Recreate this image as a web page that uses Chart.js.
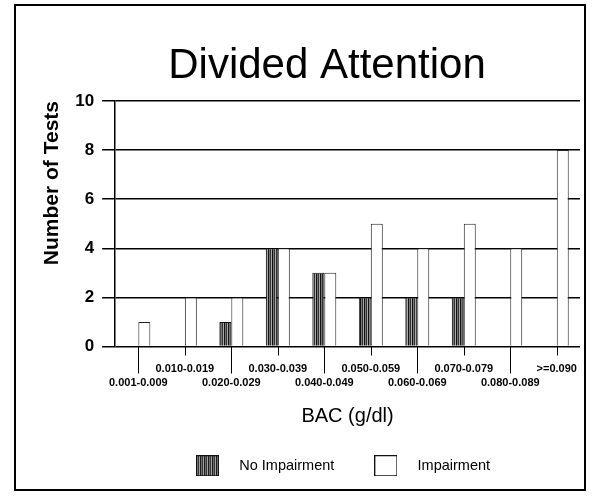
<!DOCTYPE html>
<html>
<head>
<meta charset="utf-8">
<script src="https://cdn.jsdelivr.net/npm/chart.js@4/dist/chart.umd.min.js"></script>
<style>
  html, body { margin: 0; padding: 0; background: #fff; }
  #wrap { position: relative; width: 593px; height: 497px; }
</style>
</head>
<body>
<div id="wrap"><canvas id="chart" width="593" height="497"></canvas></div>
<script>
// BAC ranges (g/dl) and counts of divided-attention tests per range
const categories = ['0.001-0.009', '0.010-0.019', '0.020-0.029', '0.030-0.039', '0.040-0.049',
                    '0.050-0.059', '0.060-0.069', '0.070-0.079', '0.080-0.089', '>=0.090'];
const noImpairment = [0, 0, 1, 4, 3, 2, 2, 2, 0, 0];
const impairment   = [1, 2, 2, 4, 3, 5, 4, 5, 4, 8];
const seriesNames  = ['No Impairment', 'Impairment'];
const yMin = 0, yMax = 10, yStep = 2;

const FONT = '"Liberation Sans", Arial, Helvetica, sans-serif';

// vertical-stripe hatch used for the "No Impairment" bars
function makeHatchTile() {
  const c = document.createElement('canvas');
  c.width = 4; c.height = 4;
  const g = c.getContext('2d');
  const cols = ['#111', '#777', '#333', '#aaa'];
  cols.forEach((col, i) => { g.fillStyle = col; g.fillRect(i, 0, 1, 4); });
  return c;
}
const hatchTile = makeHatchTile();
const hatch = document.createElement('canvas').getContext('2d').createPattern(hatchTile, 'repeat');

// legend swatches drawn as small canvases
function makeSwatch(fill) {
  const c = document.createElement('canvas');
  c.width = 23; c.height = 21;
  const g = c.getContext('2d');
  g.fillStyle = fill;
  g.fillRect(0, 0, 23, 21);
  g.strokeStyle = '#111';
  g.lineWidth = 1;
  g.strokeRect(0.5, 0.5, 22, 20);
  return c;
}
const swatches = [makeSwatch(hatch), makeSwatch('#fff')];

const framePlugin = {
  id: 'frame',
  afterLayout(chart) {
    // nudge the legend row a little left of the plot centre
    const lg = chart.legend;
    if (lg) { lg.left -= 11; lg.right -= 11; }
  },
  beforeDraw(chart) {
    const ctx = chart.ctx;
    ctx.save();
    ctx.fillStyle = '#fff';
    ctx.fillRect(0, 0, chart.width, chart.height);
    ctx.strokeStyle = '#000';
    ctx.lineWidth = 2;
    ctx.strokeRect(15, 5, 570, 485);
    ctx.restore();
  },
  afterDraw(chart) {
    const ctx = chart.ctx;
    ctx.save();
    // heading
    ctx.fillStyle = '#000';
    ctx.font = '42px ' + FONT;
    ctx.textAlign = 'center';
    ctx.textBaseline = 'middle';
    ctx.fillText('Divided Attention', 327, 66);
    // category tick lines, long for the lower label row, short for the upper
    const xs = chart.scales.x;
    const bottom = chart.chartArea.bottom;
    ctx.strokeStyle = '#000';
    ctx.lineWidth = 1;
    xs.ticks.forEach((t, i) => {
      const x = Math.round(xs.getPixelForTick(i)) + 0.5;
      const len = i % 2 === 0 ? 27 : 9;
      ctx.beginPath();
      ctx.moveTo(x, bottom);
      ctx.lineTo(x, bottom + len);
      ctx.stroke();
    });
    ctx.restore();
  }
};

new Chart(document.getElementById('chart'), {
  type: 'bar',
  data: {
    labels: categories,
    datasets: [
      { label: seriesNames[0], data: noImpairment, backgroundColor: hatch,
        borderColor: '#111', borderWidth: 1 },
      { label: seriesNames[1], data: impairment, backgroundColor: '#fff',
        borderColor: '#222', borderWidth: 1 }
    ]
  },
  options: {
    responsive: false,
    animation: false,
    layout: { padding: { top: 101, left: 35, right: 13, bottom: 14 } },
    datasets: { bar: { barPercentage: 1.0, categoryPercentage: 0.515 } },
    scales: {
      x: {
        grid: { display: false, drawTicks: false },
        border: { display: false },
        ticks: {
          autoSkip: false, maxRotation: 0, minRotation: 0,
          padding: 15, color: '#000',
          font: { family: FONT, size: 11, weight: 'bold', lineHeight: '14px' },
          callback: (v, i) => i % 2 === 0 ? ['', categories[i]] : categories[i]
        },
        title: {
          display: true, text: 'BAC (g/dl)', color: '#000',
          font: { family: FONT, size: 20 },
          padding: { top: 0, bottom: 3 }
        }
      },
      y: {
        min: yMin, max: yMax,
        grid: { color: '#000', lineWidth: 1.5, tickLength: 13 },
        border: { color: '#000', width: 1.5 },
        ticks: {
          stepSize: yStep, padding: 8, color: '#000',
          font: { family: FONT, size: 17, weight: 'bold' }
        },
        title: {
          display: true, text: 'Number of Tests', color: '#000', align: 'end',
          font: { family: FONT, size: 21, weight: 'bold' },
          padding: { top: 5, bottom: 2 }
        }
      }
    },
    plugins: {
      title: { display: false },
      tooltip: { enabled: false },
      legend: {
        position: 'bottom',
        fullSize: false,
        labels: {
          usePointStyle: true,
          pointStyleWidth: 49,
          padding: 27,
          color: '#000',
          font: { family: FONT, size: 14.5 },
          generateLabels(chart) {
            const items = Chart.defaults.plugins.legend.labels.generateLabels(chart);
            items.forEach((it, i) => { it.pointStyle = swatches[i]; });
            return items;
          }
        }
      }
    }
  },
  plugins: [framePlugin]
});
</script>
</body>
</html>
